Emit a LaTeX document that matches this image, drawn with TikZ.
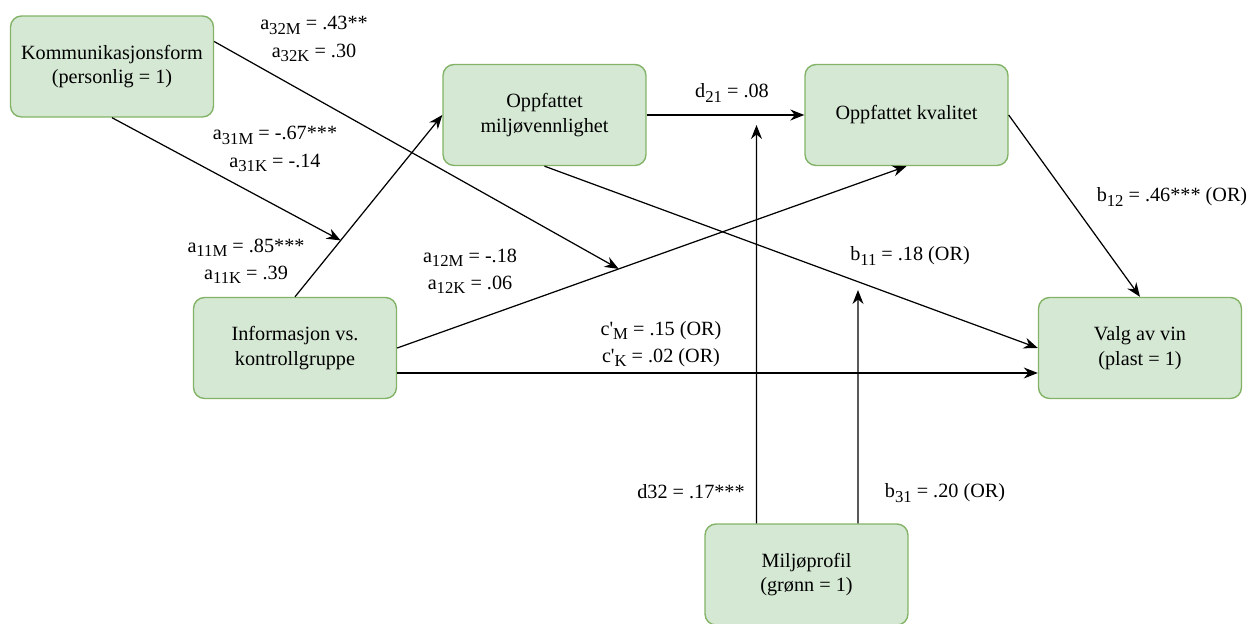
\documentclass[tikz,border=0pt]{standalone}
\usepackage{fontspec}
\setmainfont{Liberation Serif}
\usetikzlibrary{arrows.meta,calc}
\definecolor{boxfill}{HTML}{D5E8D4}
\definecolor{boxline}{HTML}{82B366}
\newcommand\idx[1]{\raisebox{-0.45ex}{\fontsize{9.5}{10}\selectfont #1}}
\tikzset{
	var/.style={draw=boxline, fill=boxfill, rounded corners=0.22cm, line width=0.8pt,
		minimum width=4.06cm, minimum height=2.02cm, align=center,
		font=\fontsize{11.5}{14}\selectfont},
	coef/.style={align=center, font=\fontsize{11.5}{15.5}\selectfont},
	effect/.style={-{Stealth[length=2.8mm,width=2.2mm]}, line width=0.7pt}
}

\begin{document}
\begin{tikzpicture}[x=0.02cm, y=-0.02cm]
			%%%%% START %%%%%
			\useasboundingbox (0,0) rectangle (1249,624);
			
			\node[var] (komm) at (112, 66.5) {Kommunikasjonsform\\(personlig = 1)};
			\node[var] (miljo) at (544.5, 115) {Oppfattet\\miljøvennlighet};
			\node[var] (kval) at (906.5, 115) {Oppfattet kvalitet};
			\node[var] (info) at (295, 348) {Informasjon vs.\\kontrollgruppe};
			\node[var] (valg) at (1140, 348) {Valg av vin\\(plast = 1)};
			\node[var] (prof) at (806.5, 574.5) {Miljøprofil\\(grønn = 1)};
			
			\coordinate (m1) at ($(info.north)!0.31!(miljo.west)$);
			\coordinate (m2) at ($(info.east)!0.435!(kval.south)$);
			\coordinate (m3) at (756.5, 125);
			\coordinate (m4) at (858, 290);
			
			\draw[effect] (info.north) -- (miljo.west);
			\draw[effect] (info.east) -- (kval.south);
			\draw[effect] (komm.south) -- (m1);
			\draw[effect] ([yshift=0.5cm]komm.east) -- (m2);
			\draw[effect] (miljo.east) -- (kval.west);
			\draw[effect] (miljo.south) -- (valg.west);
			\draw[effect] (kval.east) -- (valg.north);
			\draw[effect] ([yshift=-0.5cm]info.east) -- ([yshift=-0.5cm]valg.west);
			\draw[effect] ([xshift=-1cm]prof.north) -- (m3);
			\draw[effect] ([xshift=1.03cm]prof.north) -- (m4);
			
			\node[coef] (a32) at (314, 39) {a\idx{32M} = .43**\\a\idx{32K} = .30};
			\node[coef] (a31) at (275, 149) {a\idx{31M} = -.67***\\a\idx{31K} = -.14};
			\node[coef] (a11) at (246, 261.5) {a\idx{11M} = .85***\\a\idx{11K} = .39};
			\node[coef] (a12) at (470, 271.5) {a\idx{12M} = -.18\\a\idx{12K} = .06};
			\node[coef] (d21) at (732, 93) {d\idx{21} = .08};
			\node[coef] (c1) at (661, 344) {c\textquotesingle\idx{M} = .15 (OR)\\c\textquotesingle\idx{K} = .02 (OR)};
			\node[coef] (b12) at (1172, 197) {b\idx{12} = .46*** (OR)};
			\node[coef] (b11) at (910, 256) {b\idx{11} = .18 (OR)};
			\node[coef] (d32) at (691, 492) {d32 = .17***};
			\node[coef] (b31) at (945, 493) {b\idx{31} = .20 (OR)};
			%%%%% END %%%%%
\end{tikzpicture}
\end{document}
